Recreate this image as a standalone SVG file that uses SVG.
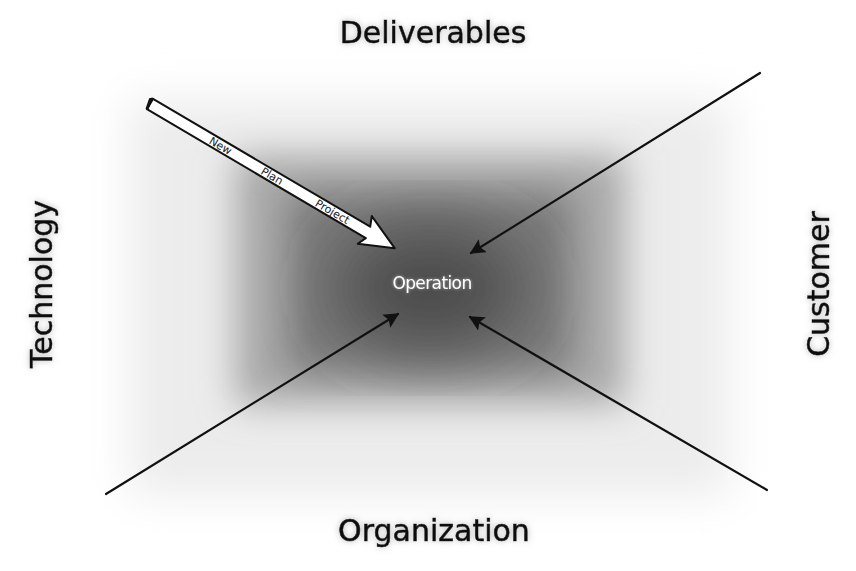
<svg xmlns="http://www.w3.org/2000/svg" width="856" height="571" viewBox="0 0 856 571">
  <style>
    .lbl { font-family: "DejaVu Sans", "Liberation Sans", sans-serif; font-size: 30px; fill: #111; stroke: #111; stroke-width: 0.6; text-anchor: middle; }
    .conn { stroke: #111; stroke-width: 2.2; fill: none; stroke-linecap: round; }
    .tag { font-family: "DejaVu Sans", "Liberation Sans", sans-serif; font-size: 11px; fill: #222; }
  </style>
  <defs>
    <filter id="soft" x="-30%" y="-30%" width="160%" height="160%">
      <feGaussianBlur stdDeviation="18"/>
    </filter>
    <filter id="soft2" x="-30%" y="-30%" width="160%" height="160%">
      <feGaussianBlur stdDeviation="22"/>
    </filter>
    <filter id="soft3" x="-40%" y="-40%" width="180%" height="180%">
      <feGaussianBlur stdDeviation="35"/>
    </filter>
    <filter id="glow" x="-20%" y="-40%" width="140%" height="180%">
      <feGaussianBlur in="SourceAlpha" stdDeviation="3" result="b"/>
      <feFlood flood-color="#999" flood-opacity="0.7"/>
      <feComposite in2="b" operator="in" result="g"/>
      <feMerge><feMergeNode in="g"/><feMergeNode in="SourceGraphic"/></feMerge>
    </filter>
    <filter id="wglow" x="-20%" y="-40%" width="140%" height="180%">
      <feGaussianBlur in="SourceAlpha" stdDeviation="1.5" result="b"/>
      <feFlood flood-color="#fff" flood-opacity="0.5"/>
      <feComposite in2="b" operator="in" result="g"/>
      <feMerge><feMergeNode in="g"/><feMergeNode in="SourceGraphic"/></feMerge>
    </filter>
    <marker id="ah" viewBox="0 0 10 10" refX="9" refY="5" markerWidth="7" markerHeight="7" markerUnits="strokeWidth" orient="auto">
      <path d="M0,0 L10,5 L0,10 L2,5 Z" fill="#111"/>
    </marker>
  </defs>

  <rect width="856" height="571" fill="#ffffff"/>

  <g id="background">
    <rect x="130" y="100" width="600" height="395" fill="#ececec" filter="url(#soft2)"/>
    <rect x="235" y="155" width="390" height="250" fill="#a8a8a8" filter="url(#soft)"/>
    <rect x="290" y="195" width="280" height="175" fill="#7a7a7a" filter="url(#soft)"/>
    <ellipse cx="430" cy="288" rx="95" ry="60" fill="#4a4a4a" filter="url(#soft3)"/>
  </g>

  <g id="connectors">
    <path class="conn" d="M760,73 L471,253" marker-end="url(#ah)"/>
    <path class="conn" d="M106,494 L398,314" marker-end="url(#ah)"/>
    <path class="conn" d="M767,490 L470,317" marker-end="url(#ah)"/>
  </g>

  <g id="plan-arrow">
    <g transform="translate(150,104) rotate(30.5)">
      <path d="M0,-6 L252,-6 L248,-16 L284,0 L250,15 L254,6 L0,6 Z" fill="#ffffff" stroke="#111" stroke-width="2" stroke-linejoin="round"/>
      <path d="M0,-6 L-2,-4 L0,6" fill="none" stroke="#111" stroke-width="3"/>
      <text class="tag" x="70" y="4">New</text>
      <text class="tag" x="130" y="4">Plan</text>
      <text class="tag" x="193" y="4">Project</text>
    </g>
  </g>

  <g id="operation">
    <text x="432" y="289" font-family="DejaVu Sans, Liberation Sans, sans-serif" font-size="17" fill="#fff" text-anchor="middle" letter-spacing="-0.6" filter="url(#wglow)">Operation</text>
  </g>

  <g id="deliverables">
    <text class="lbl" x="433" y="43" filter="url(#glow)">Deliverables</text>
  </g>
  <g id="organization">
    <text class="lbl" x="434" y="541" filter="url(#glow)">Organization</text>
  </g>
  <g id="technology">
    <text class="lbl" transform="translate(52,284) rotate(-90)" x="0" y="0" filter="url(#glow)">Technology</text>
  </g>
  <g id="customer">
    <text class="lbl" transform="translate(829,284) rotate(-90)" x="0" y="0" filter="url(#glow)">Customer</text>
  </g>
</svg>
